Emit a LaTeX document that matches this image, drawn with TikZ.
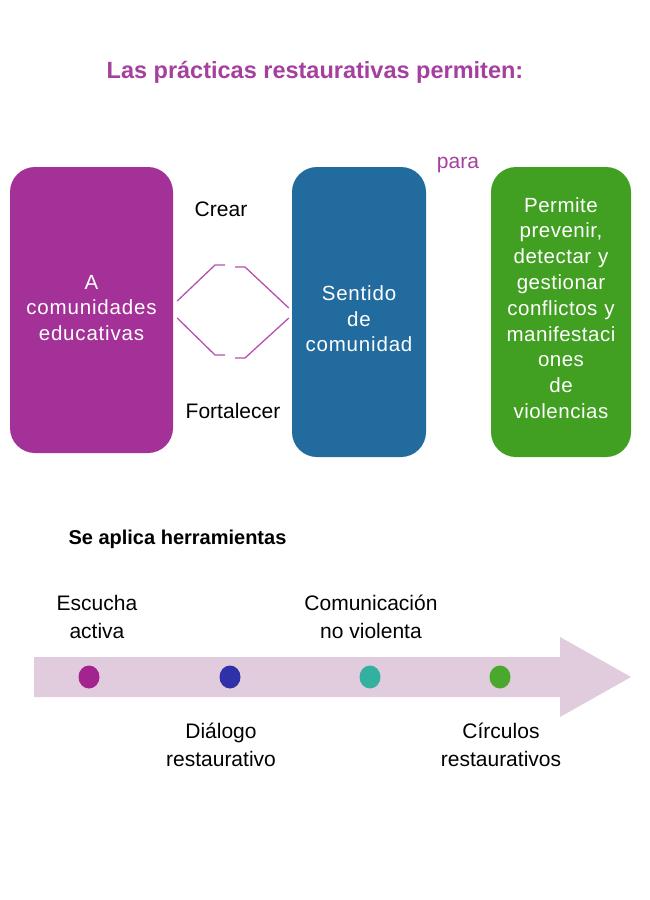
\documentclass[tikz,border=0pt]{standalone}
\usepackage{fontspec}
\setmainfont{Liberation Sans}
\usepackage{xcolor}
\usetikzlibrary{positioning, shapes, calc}

\definecolor{titlepurple}{HTML}{A5409F}
\definecolor{boxpurple}{HTML}{A43198}
\definecolor{boxblue}{HTML}{226B9F}
\definecolor{boxgreen}{HTML}{41A021}
\definecolor{linkpurple}{HTML}{B552AE}
\definecolor{bandpink}{HTML}{E0CCDD}
\definecolor{dotpurple}{HTML}{A3238F}
\definecolor{dotblue}{HTML}{2E31A7}
\definecolor{dotteal}{HTML}{33B0A0}
\definecolor{dotgreen}{HTML}{4AA92C}

\tikzset{
  bigbox/.style={rounded corners=25pt, minimum height=288pt, inner sep=0pt},
  boxtext/.style={text=white, align=center,
    font=\fontsize{20.5}{25.5}\selectfont\addfontfeature{LetterSpace=4}},
  plainlabel/.style={align=center, font=\fontsize{21}{28}\selectfont},
  dotmark/.style={ellipse, minimum width=21pt, minimum height=23pt, inner sep=0pt},
  linkline/.style={linkpurple, line width=1.3pt}
}

\begin{document}
\begin{tikzpicture}[x=1pt, y=-1pt]
    \useasboundingbox[fill=white] (0,0) rectangle (650,900);

    % Title
    \node[titlepurple, font=\fontsize{23.5}{27}\selectfont\bfseries] (title) at (315,72) {Las prácticas restaurativas permiten:};

    % Three boxes
    \node[bigbox, fill=boxpurple, minimum width=163pt, minimum height=286pt] (comunidad) at (91.5,310) {};
    \node[bigbox, fill=boxblue, minimum width=134pt, minimum height=290pt] (sentido) at (359,312) {};
    \node[bigbox, fill=boxgreen, minimum width=140pt, minimum height=290pt] (permite) at (561,312) {};

    \node[boxtext, text width=158pt] (comunidadtxt) at ($(comunidad.center)+(0,-2)$) {A\\comunidades\\educativas};
    \node[boxtext, text width=130pt] (sentidotxt) at ($(sentido.center)+(0,7)$) {Sentido\\de\\comunidad};
    \node[boxtext, text width=136pt, font=\fontsize{20.5}{25.8}\selectfont\addfontfeature{LetterSpace=2.5}]
      (permitetxt) at ($(permite.center)+(0,-4)$)
      {Permite\\prevenir,\\detectar y\\gestionar\\conflictos y\\manifestaci\\ones\\de\\violencias};

    \node[titlepurple, font=\fontsize{21}{25}\selectfont] (para) at (458,165) {para};
    \node[plainlabel] (crear) at (221,209) {Crear};
    \node[plainlabel] (fortalecer) at (233,411) {Fortalecer};

    % Bracket shaped links
    \coordinate (upL) at ($(comunidad.east)+(4,-9)$);
    \coordinate (loL) at ($(comunidad.east)+(4,8)$);
    \coordinate (upR) at ($(sentido.west)+(-3,-4)$);
    \coordinate (loR) at ($(sentido.west)+(-3,6)$);
    \draw[linkline] (upL) -- (215,265) -- (225,265);
    \draw[linkline] (235,267) -- (245,267) -- (upR);
    \draw[linkline] (loL) -- (215,355) -- (225,355);
    \draw[linkline] (235,358) -- (245,358) -- (loR);

    % Tools timeline
    \node[anchor=west, font=\fontsize{20}{24}\selectfont\bfseries] (tools) at (65,539) {Se aplica herramientas};
    \fill[bandpink] (34,657) -- (560,657) -- (560,637) -- (631,677) -- (560,717) -- (560,697) -- (34,697) -- cycle;

    \node[dotmark, fill=dotpurple] (d1) at (89,677) {};
    \node[dotmark, fill=dotblue] (d2) at (230,677) {};
    \node[dotmark, fill=dotteal] (d3) at (370,677) {};
    \node[dotmark, fill=dotgreen] (d4) at (500,677) {};

    \node[plainlabel] (escucha) at (97,617) {Escucha\\activa};
    \node[plainlabel] (comunica) at (371,617) {Comunicación\\no violenta};
    \node[plainlabel] (dialogo) at (221,745) {Diálogo\\restaurativo};
    \node[plainlabel] (circulos) at (501,745) {Círculos\\restaurativos};
  \end{tikzpicture}
\end{document}
